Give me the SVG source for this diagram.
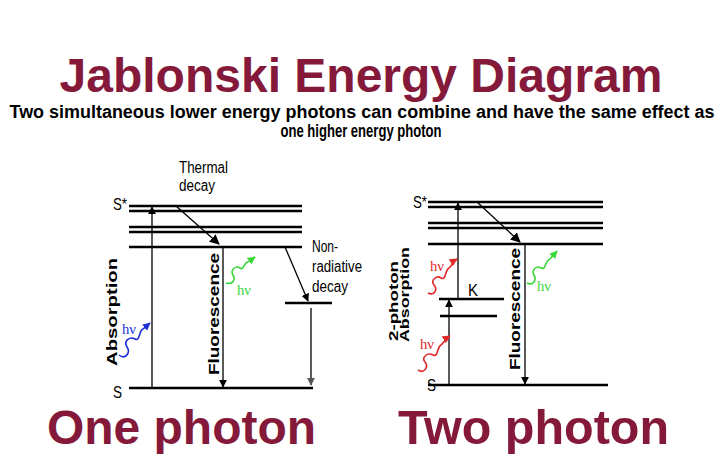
<svg xmlns="http://www.w3.org/2000/svg" width="725" height="459" viewBox="0 0 725 459">
<defs>
<marker id="ah" viewBox="0 0 10 10" refX="9" refY="5" markerWidth="8" markerHeight="8" markerUnits="userSpaceOnUse" orient="auto"><path d="M0,0 L10,5 L0,10 z" fill="#000"/></marker>
<marker id="ahb" viewBox="0 0 10 10" refX="9" refY="5" markerWidth="10" markerHeight="10" markerUnits="userSpaceOnUse" orient="auto"><path d="M0,0 L10,5 L0,10 z" fill="#000"/></marker>
<marker id="ahg" viewBox="0 0 10 10" refX="9" refY="5" markerWidth="8" markerHeight="8" markerUnits="userSpaceOnUse" orient="auto"><path d="M0,0 L10,5 L0,10 z" fill="#555"/></marker>
<marker id="blue" viewBox="0 0 10 10" refX="9" refY="5" markerWidth="8" markerHeight="8" markerUnits="userSpaceOnUse" orient="auto"><path d="M0,0 L10,5 L0,10 z" fill="#1f2fd6"/></marker>
<marker id="green" viewBox="0 0 10 10" refX="9" refY="5" markerWidth="8" markerHeight="8" markerUnits="userSpaceOnUse" orient="auto"><path d="M0,0 L10,5 L0,10 z" fill="#3ad83a"/></marker>
<marker id="red" viewBox="0 0 10 10" refX="9" refY="5" markerWidth="8" markerHeight="8" markerUnits="userSpaceOnUse" orient="auto"><path d="M0,0 L10,5 L0,10 z" fill="#e02a2a"/></marker>
</defs>
<style>
.title{font-family:"Liberation Sans",Arial,sans-serif;font-weight:bold;fill:#85193a}
.sub{font-family:"Liberation Sans",Arial,sans-serif;font-weight:bold;font-size:18px;fill:#000}
.lvl{stroke:#000;stroke-width:2.4;fill:none}
.arr{stroke:#000;stroke-width:1.3;fill:none}
.lab{font-family:"Liberation Sans",Arial,sans-serif;font-size:16px;fill:#000}
.vlab{font-family:"Liberation Sans",Arial,sans-serif;font-size:14px;font-weight:bold;fill:#000}
.vsm{font-family:"Liberation Sans",Arial,sans-serif;font-size:12px;font-weight:bold;fill:#000}
.hv{font-family:"Liberation Serif","Times New Roman",serif;font-size:15px}
.wave{fill:none;stroke-width:1.6}
</style>
<rect width="725" height="459" fill="#fff"/>
<g id="title">
<text class="title" x="361" y="92" font-size="48" text-anchor="middle">Jablonski Energy Diagram</text>
<text class="sub" x="362" y="118" text-anchor="middle" textLength="705" lengthAdjust="spacingAndGlyphs">Two simultaneous lower energy photons can combine and have the same effect as</text>
<text class="sub" x="361" y="137" text-anchor="middle" textLength="161" lengthAdjust="spacingAndGlyphs">one higher energy photon</text>
</g>
<g id="one-photon">
<g id="left-levels">
<line class="lvl" x1="129" y1="206" x2="302" y2="206"/>
<line class="lvl" x1="129" y1="211" x2="302" y2="211"/>
<line class="lvl" x1="129" y1="227" x2="302" y2="227"/>
<line class="lvl" x1="129" y1="232" x2="302" y2="232"/>
<line class="lvl" x1="129" y1="247" x2="302" y2="247"/>
<line class="lvl" x1="129" y1="388" x2="313" y2="388"/>
<line class="lvl" x1="285" y1="303" x2="332" y2="303"/>
</g>
<g id="left-labels">
<text class="lab" x="113" y="210" textLength="14" lengthAdjust="spacingAndGlyphs">S*</text>
<text class="lab" x="113" y="398" textLength="9" lengthAdjust="spacingAndGlyphs">S</text>
<text class="lab" x="179" y="173" textLength="49" lengthAdjust="spacingAndGlyphs">Thermal</text>
<text class="lab" x="179" y="191" textLength="36" lengthAdjust="spacingAndGlyphs">decay</text>
<text class="lab" x="312" y="252" textLength="26" lengthAdjust="spacingAndGlyphs">Non-</text>
<text class="lab" x="312" y="272" textLength="50" lengthAdjust="spacingAndGlyphs">radiative</text>
<text class="lab" x="312" y="292" textLength="36" lengthAdjust="spacingAndGlyphs">decay</text>
<text class="vlab" transform="translate(117,312) rotate(-90)" text-anchor="middle" textLength="108" lengthAdjust="spacingAndGlyphs">Absorption</text>
<text class="vlab" transform="translate(219,314) rotate(-90)" text-anchor="middle" textLength="122" lengthAdjust="spacingAndGlyphs">Fluorescence</text>
<text class="hv" x="122" y="334" fill="#1f2fd6" textLength="14" lengthAdjust="spacingAndGlyphs">hν</text>
<text class="hv" x="237" y="295" fill="#3ad83a" textLength="14" lengthAdjust="spacingAndGlyphs">hν</text>
</g>
</g>
<g id="two-photon">
<g id="right-levels">
<line class="lvl" x1="428" y1="202" x2="603" y2="202"/>
<line class="lvl" x1="428" y1="207" x2="603" y2="207" stroke-width="3"/>
<line class="lvl" x1="428" y1="223" x2="603" y2="223"/>
<line class="lvl" x1="428" y1="228" x2="603" y2="228"/>
<line class="lvl" x1="428" y1="244" x2="603" y2="244"/>
<line class="lvl" x1="428" y1="385" x2="608" y2="385"/>
<line class="lvl" x1="439" y1="299" x2="504" y2="299"/>
<line class="lvl" x1="440" y1="316" x2="497" y2="316"/>
</g>
<g id="right-labels">
<text class="lab" x="413" y="208" textLength="14" lengthAdjust="spacingAndGlyphs">S*</text>
<text class="lab" x="427" y="391" textLength="9" lengthAdjust="spacingAndGlyphs">S</text>
<text class="lab" x="468" y="296" textLength="10" lengthAdjust="spacingAndGlyphs">K</text>
<text class="vsm" transform="translate(398,341) rotate(-90)" text-anchor="start" textLength="80" lengthAdjust="spacingAndGlyphs">2-photon</text>
<text class="vsm" transform="translate(409,342) rotate(-90)" text-anchor="start" textLength="95" lengthAdjust="spacingAndGlyphs">Absorption</text>
<text class="vlab" transform="translate(520,309) rotate(-90)" text-anchor="middle" textLength="122" lengthAdjust="spacingAndGlyphs">Fluorescence</text>
<text class="hv" x="430" y="271" fill="#e02a2a" textLength="14" lengthAdjust="spacingAndGlyphs">hν</text>
<text class="hv" x="420" y="349" fill="#e02a2a" textLength="14" lengthAdjust="spacingAndGlyphs">hν</text>
<text class="hv" x="537" y="291" fill="#3ad83a" textLength="14" lengthAdjust="spacingAndGlyphs">hν</text>
</g>
</g>
<g id="connectors">
<line class="arr" x1="152" y1="388" x2="152" y2="207" marker-end="url(#ah)"/>
<line class="arr" x1="176" y1="206" x2="219" y2="244" stroke-width="1.8" marker-end="url(#ahb)"/>
<line class="arr" x1="223" y1="247" x2="223" y2="387" marker-end="url(#ah)"/>
<line class="arr" x1="285" y1="247" x2="308" y2="301" marker-end="url(#ah)"/>
<line class="arr" x1="311" y1="308" x2="311" y2="385" stroke="#555" marker-end="url(#ahg)"/>
<path class="wave" stroke="#1f2fd6" d="M119,355 C125,360 131,353 127,347 C123,341 130,336 135,339 C140,342 139,330 143,329 L150,323" marker-end="url(#blue)"/>
<path class="wave" stroke="#3ad83a" d="M226,283 C232,285 236,280 233,275 C230,270 236,265 240,268 C244,271 244,262 248,262 L255,257" marker-end="url(#green)"/>
<line class="arr" x1="458" y1="299" x2="458" y2="203" marker-end="url(#ah)"/>
<line class="arr" x1="449" y1="385" x2="449" y2="300" marker-end="url(#ah)"/>
<line class="arr" x1="477" y1="202" x2="520" y2="242" stroke-width="1.8" marker-end="url(#ahb)"/>
<line class="arr" x1="525" y1="244" x2="525" y2="384" marker-end="url(#ah)"/>
<path class="wave" stroke="#e02a2a" d="M428,293 C434,296 438,290 434,285 C430,280 437,275 441,278 C446,281 445,270 449,268 C452,266 452,262 457,259" marker-end="url(#red)"/>
<path class="wave" stroke="#e02a2a" d="M418,370 C424,374 429,367 425,362 C421,357 428,352 433,355 C438,358 437,347 441,345 C444,343 445,339 450,336" marker-end="url(#red)"/>
<path class="wave" stroke="#3ad83a" d="M527,283 C533,286 537,280 534,275 C531,270 537,265 541,268 C546,271 545,260 550,259 L557,251" marker-end="url(#green)"/>
</g>
<g id="captions">
<text class="title" x="47" y="444" font-size="48" textLength="269" lengthAdjust="spacingAndGlyphs">One photon</text>
<text class="title" x="398" y="444" font-size="48" textLength="271" lengthAdjust="spacingAndGlyphs">Two photon</text>
</g>
</svg>
